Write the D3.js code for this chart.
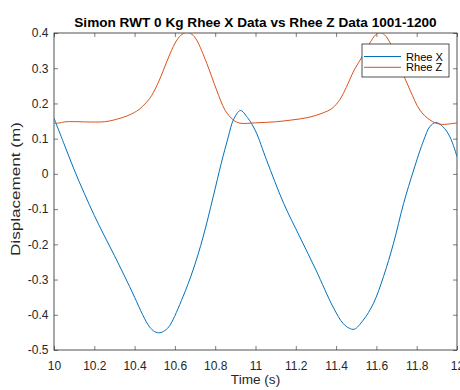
<!DOCTYPE html>
<html>
<head>
<meta charset="utf-8">
<script src="https://cdn.jsdelivr.net/npm/d3@7"></script>
<style>
  html, body { margin: 0; padding: 0; background: #fff; }
  svg { display: block; font-family: "Liberation Sans", Arial, sans-serif; }
</style>
</head>
<body>
<script>
(function (d3) {
    "use strict";

    /***** Data *****/
    var rheeXTime = [10.00, 10.05, 10.10, 10.15, 10.20, 10.25, 10.30, 10.35, 10.40, 10.44,
                     10.475, 10.50, 10.525, 10.55, 10.575, 10.64, 10.69, 10.74, 10.79, 10.83,
                     10.865, 10.89, 10.925, 10.96, 11.00, 11.055, 11.14, 11.22, 11.30, 11.385,
                     11.435, 11.465, 11.49, 11.535, 11.585, 11.635, 11.685, 11.735, 11.785, 11.835,
                     11.865, 11.895, 11.93, 11.965, 12.00];
    var rheeX = [0.158, 0.085, 0.012, -0.055, -0.118, -0.176, -0.232, -0.290, -0.350, -0.400,
                 -0.435, -0.448, -0.451, -0.445, -0.430, -0.349, -0.273, -0.179, -0.065, 0.030,
                 0.105, 0.153, 0.180, 0.160, 0.122, 0.039, -0.084, -0.179, -0.273, -0.378,
                 -0.425, -0.438, -0.441, -0.415, -0.368, -0.292, -0.197, -0.084, 0.011, 0.096,
                 0.134, 0.146, 0.134, 0.105, 0.049];

    var rheeZTime = [10.00, 10.03, 10.06, 10.25, 10.31, 10.36, 10.41, 10.44, 10.476, 10.51,
                     10.54, 10.575, 10.61, 10.635, 10.66, 10.685, 10.708, 10.758, 10.807, 10.849,
                     10.89, 10.923, 11.00, 11.10, 11.18, 11.26, 11.33, 11.38, 11.42, 11.45,
                     11.49, 11.535, 11.568, 11.595, 11.618, 11.64, 11.667, 11.717, 11.767, 11.816,
                     11.866, 11.916, 12.00];
    var rheeZ = [0.143, 0.145, 0.148, 0.148, 0.155, 0.164, 0.178, 0.192, 0.215, 0.250,
                 0.290, 0.340, 0.380, 0.396, 0.401, 0.396, 0.380, 0.314, 0.238, 0.181,
                 0.153, 0.144, 0.145, 0.148, 0.153, 0.160, 0.172, 0.186, 0.212, 0.245,
                 0.295, 0.338, 0.372, 0.394, 0.401, 0.395, 0.373, 0.304, 0.238, 0.181,
                 0.153, 0.141, 0.145];

    var seriesNames = ["Rhee X", "Rhee Z"];
    var xTicks = [10, 10.2, 10.4, 10.6, 10.8, 11, 11.2, 11.4, 11.6, 11.8, 12];
    var yTicks = [-0.5, -0.4, -0.3, -0.2, -0.1, 0, 0.1, 0.2, 0.3, 0.4];

    /***** Configuration *****/
    var width = 460, height = 390;
    var plot = { left: 54, right: 457, top: 33, bottom: 350 };
    var colors = ["#0072BD", "#D95319"];
    var axisColor = "#262626";
    var fmt = function (d) { return String(+d.toFixed(1)); };

    /***** Scales *****/
    var xScale = d3.scaleLinear().domain([10, 12]).range([plot.left, plot.right]);
    var yScale = d3.scaleLinear().domain([-0.5, 0.4]).range([plot.bottom, plot.top]);

    var svg = d3.select("body").append("svg")
        .attr("width", width)
        .attr("height", height);

    svg.append("defs").append("clipPath").attr("id", "plotClip")
        .append("rect")
        .attr("x", plot.left).attr("y", plot.top)
        .attr("width", plot.right - plot.left)
        .attr("height", plot.bottom - plot.top);

    /***** Axes *****/
    function styleAxis(g) {
        g.select(".domain").remove();
        g.selectAll(".tick line").attr("stroke", axisColor).attr("stroke-width", 0.6);
        g.selectAll(".tick text").attr("fill", axisColor)
            .style("font-size", "12px")
            .style("font-family", "'Liberation Sans', Arial, sans-serif");
    }

    svg.append("g")
        .attr("transform", "translate(0," + plot.bottom + ")")
        .call(d3.axisBottom(xScale).tickValues(xTicks).tickFormat(fmt)
            .tickSizeInner(-4).tickSizeOuter(0).tickPadding(11.5))
        .call(styleAxis);

    svg.append("g")
        .attr("transform", "translate(" + plot.left + ",0)")
        .call(d3.axisLeft(yScale).tickValues(yTicks).tickFormat(fmt)
            .tickSizeInner(-4).tickSizeOuter(0).tickPadding(5.5))
        .call(styleAxis);

    svg.append("g")
        .attr("transform", "translate(0," + plot.top + ")")
        .call(d3.axisTop(xScale).tickValues(xTicks).tickFormat("")
            .tickSizeInner(-4).tickSizeOuter(0))
        .call(styleAxis);

    svg.append("g")
        .attr("transform", "translate(" + plot.right + ",0)")
        .call(d3.axisRight(yScale).tickValues(yTicks).tickFormat("")
            .tickSizeInner(-4).tickSizeOuter(0))
        .call(styleAxis);

    svg.append("rect")
        .attr("x", plot.left).attr("y", plot.top)
        .attr("width", plot.right - plot.left)
        .attr("height", plot.bottom - plot.top)
        .attr("fill", "none")
        .attr("stroke", axisColor)
        .attr("stroke-width", 0.8);

    /***** Lines *****/
    var line = d3.line()
        .x(function (d) { return xScale(d[0]); })
        .y(function (d) { return yScale(d[1]); })
        .curve(d3.curveCatmullRom.alpha(0.5));

    var series = [
        d3.zip(rheeXTime, rheeX),
        d3.zip(rheeZTime, rheeZ)
    ];

    svg.append("g").attr("clip-path", "url(#plotClip)")
        .selectAll("path")
        .data(series)
        .join("path")
        .attr("d", line)
        .attr("fill", "none")
        .attr("stroke", function (d, i) { return colors[i]; })
        .attr("stroke-width", 1);

    /***** Titles *****/
    svg.append("text")
        .attr("x", (plot.left + plot.right) / 2)
        .attr("y", 26.5)
        .attr("text-anchor", "middle")
        .style("font-size", "13.6px")
        .style("font-weight", "bold")
        .attr("fill", "#000")
        .text("Simon RWT 0 Kg Rhee X Data vs Rhee Z Data 1001-1200");

    svg.append("text")
        .attr("x", (plot.left + plot.right) / 2)
        .attr("y", 384)
        .attr("text-anchor", "middle")
        .style("font-size", "13.6px")
        .attr("fill", axisColor)
        .text("Time (s)");

    svg.append("text")
        .attr("transform", "translate(20,189) rotate(-90)")
        .attr("text-anchor", "middle")
        .attr("textLength", 134)
        .attr("lengthAdjust", "spacingAndGlyphs")
        .style("font-size", "13px")
        .attr("fill", axisColor)
        .text("Displacement (m)");

    /***** Legend *****/
    var legend = svg.append("g").attr("transform", "translate(362,44)");
    legend.append("rect")
        .attr("width", 87).attr("height", 33)
        .attr("fill", "#fff")
        .attr("stroke", axisColor)
        .attr("stroke-width", 0.8);

    var rows = legend.selectAll("g.row")
        .data(seriesNames)
        .join("g")
        .attr("class", "row")
        .attr("transform", function (d, i) { return "translate(0," + (12.5 + i * 10.8) + ")"; });

    rows.append("line")
        .attr("x1", 2).attr("x2", 39)
        .attr("stroke", function (d, i) { return colors[i]; })
        .attr("stroke-width", 1);

    rows.append("text")
        .attr("x", 44)
        .attr("dy", "0.36em")
        .style("font-size", "11.1px")
        .attr("fill", "#000")
        .text(function (d) { return d; });

})(d3);
</script>
</body>
</html>
